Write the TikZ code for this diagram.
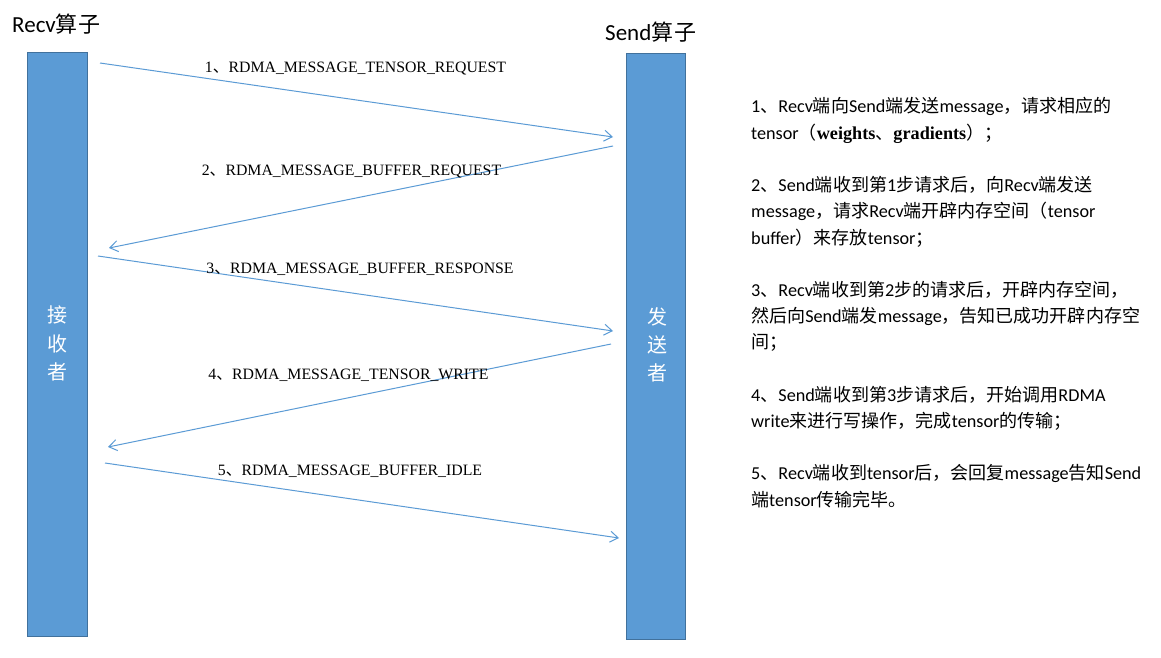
\documentclass[tikz,border=0pt]{standalone}
\usepackage{fontspec}
\setmainfont{Carlito}
\newfontfamily\cjk{Noto Sans CJK SC}
\newfontfamily\cjkT[Scale=0.99]{Noto Sans CJK SC}
\newfontfamily\serif{Liberation Serif}
\usetikzlibrary{arrows.meta}
\definecolor{barfill}{HTML}{5B9BD5}
\definecolor{barline}{HTML}{41719C}
\definecolor{arrowc}{HTML}{5B9BD5}
\newcommand\Z[1]{{\cjkT #1}}
\tikzset{
  bar/.style={draw=barline, line width=1pt, fill=barfill, inner sep=0pt},
  msg/.style={draw=arrowc, line width=1pt, -{Straight Barb[length=8pt,width=11pt]}},
  lbl/.style={anchor=base, inner sep=0pt, font=\serif\fontsize{15.8}{18}\selectfont},
  title/.style={anchor=base west, inner sep=0pt, font=\fontsize{23}{27}\selectfont},
  vert/.style={text=white, inner sep=0pt, font=\cjk\fontsize{20}{24}\selectfont},
  note/.style={anchor=base west, inner sep=0pt, font=\fontsize{18.2}{21}\selectfont}
}
\begin{document}
\begin{tikzpicture}[x=1pt,y=-1pt]
\useasboundingbox[fill=white] (0,0) rectangle (1161,658);
% lifelines
\node[bar, minimum width=60pt, minimum height=583pt] (recv) at (57,344.5) {};
\node[bar, minimum width=59pt, minimum height=585pt] (send) at (655.5,346.5) {};
\node[title] (trecv) at (12,33) {Recv{\cjk\fontsize{22}{25}\selectfont 算\kern1pt 子}};
\node[title] (tsend) at (605,41) {Send{\cjk\fontsize{22}{25}\selectfont 算\kern1pt 子}};
% vertical texts
\node[vert] (r1) at (57,315) {接};
\node[vert] (r2) at (57,344) {收};
\node[vert] (r3) at (57,372) {者};
\node[vert] (s1) at (657,317) {发};
\node[vert] (s2) at (657,345) {送};
\node[vert] (s3) at (657,373) {者};
% message endpoints
\coordinate (a1s) at (100,63);  \coordinate (a1e) at (613,137);
\coordinate (a2s) at (613,146); \coordinate (a2e) at (109,248);
\coordinate (a3s) at (98,256);  \coordinate (a3e) at (613,331);
\coordinate (a4s) at (611,344); \coordinate (a4e) at (108,447);
\coordinate (a5s) at (105,463); \coordinate (a5e) at (619,538);
\draw[msg] (a1s) -- (a1e);
\draw[msg] (a2s) -- (a2e);
\draw[msg] (a3s) -- (a3e);
\draw[msg] (a4s) -- (a4e);
\draw[msg] (a5s) -- (a5e);
% message labels
\node[lbl] (l1) at (355.5,73) {1{\cjk 、}RDMA\_MESSAGE\_TENSOR\_REQUEST};
\node[lbl] (l2) at (351.5,175) {2{\cjk 、}RDMA\_MESSAGE\_BUFFER\_REQUEST};
\node[lbl] (l3) at (360,273) {3{\cjk 、}RDMA\_MESSAGE\_BUFFER\_RESPONSE};
\node[lbl] (l4) at (348.5,379) {4{\cjk 、}RDMA\_MESSAGE\_TENSOR\_WRITE};
\node[lbl] (l5) at (350,475) {5{\cjk 、}RDMA\_MESSAGE\_BUFFER\_IDLE};
% notes
\node[note] (n1)  at (751,113.0) {1\Z{、}Recv\Z{端向}Send\Z{端发送}message\Z{，请求相应的}};
\node[note] (n2)  at (751,139.2) {tensor\Z{（}{\serif\bfseries weights}\Z{、}{\serif\bfseries gradients}\Z{）；}};
\node[note] (n3)  at (751,191.6) {2\Z{、}Send\Z{端收到第}1\Z{步请求后，向}Recv\Z{端发送}};
\node[note] (n4)  at (751,217.8) {message\Z{，请求}Recv\Z{端开辟内存空间（}tensor};
\node[note] (n5)  at (751,244.0) {buffer\Z{）来存放}tensor\Z{；}};
\node[note] (n6)  at (751,296.4) {3\Z{、}Recv\Z{端收到第}2\Z{步的请求后，开辟内存空间，}};
\node[note] (n7)  at (751,322.6) {\Z{然后向}Send\Z{端发}message\Z{，告知已成功开辟内存空}};
\node[note] (n8)  at (751,348.8) {\Z{间；}};
\node[note] (n9)  at (751,401.2) {4\Z{、}Send\Z{端收到第}3\Z{步请求后，开始调用}RDMA};
\node[note] (n10) at (751,427.4) {write\Z{来进行写操作，完成}tensor\Z{的传输；}};
\node[note] (n11) at (751,479.8) {5\Z{、}Recv\Z{端收到}tensor\Z{后，会回复}message\Z{告知}Send};
\node[note] (n12) at (751,506.0) {\Z{端}tensor\Z{传输完毕。}};
\end{tikzpicture}
\end{document}
